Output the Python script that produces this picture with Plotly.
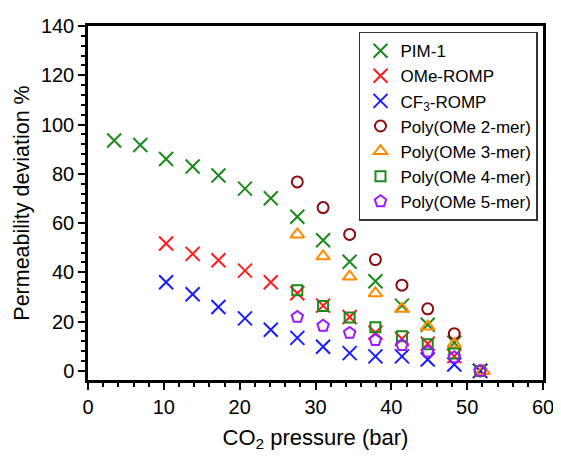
import plotly.graph_objects as go

pressure = [3.45, 6.9, 10.3, 13.8, 17.2, 20.7, 24.1, 27.6, 31.0, 34.5, 37.9, 41.4, 44.8, 48.3, 51.7]

pim1 = [93.5, 91.7, 86.0, 83.0, 79.3, 74.0, 70.1, 62.6, 53.0, 44.3, 36.4, 26.5, 18.7, 11.4, 0.0]

p_romp = [10.3, 13.8, 17.2, 20.7, 24.1, 27.6, 31.0, 34.5, 37.9, 41.4, 44.8, 48.3, 51.7]
ome_romp = [51.7, 47.5, 44.9, 40.7, 36.0, 31.5, 26.5, 21.9, 15.5, 13.0, 11.0, 6.0, 0.0]
cf3_romp = [36.0, 31.1, 25.9, 21.3, 16.7, 13.4, 9.8, 7.2, 5.9, 5.9, 4.6, 2.6, 0.0]

p_oligo = [27.6, 31.0, 34.5, 37.9, 41.4, 44.8, 48.3, 51.7]
mer2 = [76.7, 66.3, 55.4, 45.2, 34.8, 25.2, 15.1, 0.0]
mer3 = [55.4, 46.5, 38.3, 31.5, 25.2, 18.0, 11.0, 0.0]
mer4 = [32.7, 26.3, 21.7, 17.7, 14.1, 10.8, 7.1, 0.0]
mer5 = [21.9, 18.3, 15.4, 12.5, 10.4, 7.8, 5.5, 0.0]
p_mer3 = [27.6, 31.0, 34.5, 37.9, 41.4, 44.8, 48.3, 52.1]

names = ["PIM-1", "OMe-ROMP", "CF<sub>3</sub>-ROMP", "Poly(OMe 2-mer)",
         "Poly(OMe 3-mer)", "Poly(OMe 4-mer)", "Poly(OMe 5-mer)"]

FONT = "Arial, Liberation Sans, sans-serif"

fig = go.Figure()

def add(x, y, name, symbol, color, size, lw=2):
    fig.add_trace(go.Scatter(
        x=x, y=y, mode="markers", name=name,
        marker=dict(symbol=symbol, size=size, color=color,
                    line=dict(color=color, width=lw))))

add(pressure, pim1, names[0], "x-thin", "#1a8a1a", 14)
add(p_romp, ome_romp, names[1], "x-thin", "#ff1a1a", 14)
add(p_romp, cf3_romp, names[2], "x-thin", "#1a1aff", 14)
add(p_oligo, mer2, names[3], "circle-open", "#8b0d0d", 11)
add(p_mer3, mer3, names[4], "triangle-up-open", "#ff8c00", 12)
add(p_oligo, mer4, names[5], "square-open", "#1a8a1a", 10)
add(p_oligo, mer5, names[6], "pentagon-open", "#9b1aff", 12)

axis_common = dict(showline=True, linecolor="black", linewidth=2.5, mirror=True,
                   ticks="outside", ticklen=7, tickwidth=2, tickcolor="black",
                   showgrid=False, zeroline=False, ticklabeloverflow="allow",
                   tickfont=dict(family=FONT, size=20, color="black"))

fig.update_xaxes(range=[0, 60], dtick=10, tick0=0,
                 minor=dict(dtick=2, ticks="outside", ticklen=4, tickwidth=2, tickcolor="black"),
                 title=dict(text="CO<sub>2</sub> pressure (bar)", standoff=13,
                            font=dict(family=FONT, size=22, color="black")),
                 **axis_common)
fig.update_yaxes(range=[-3.7, 140], dtick=20, tick0=0,
                 minor=dict(dtick=4, ticks="outside", ticklen=4, tickwidth=2, tickcolor="black"),
                 title=dict(text="Permeability deviation %", standoff=6,
                            font=dict(family=FONT, size=21.5, color="black")),
                 **axis_common)

# page body has an 8px default margin, so the figure is sized to fit the window
fig.update_layout(
    width=553, height=449,
    margin=dict(l=80, r=14, t=7, b=77),
    paper_bgcolor="white", plot_bgcolor="white",
    legend=dict(x=0.989, y=0.984, xanchor="right", yanchor="top",
                bordercolor="#333333", borderwidth=1.5, bgcolor="white",
                font=dict(family=FONT, size=17, color="black"),
                itemwidth=30, tracegroupgap=0),
    showlegend=True,
)

fig.write_html("out.html", config={"displayModeBar": False})
